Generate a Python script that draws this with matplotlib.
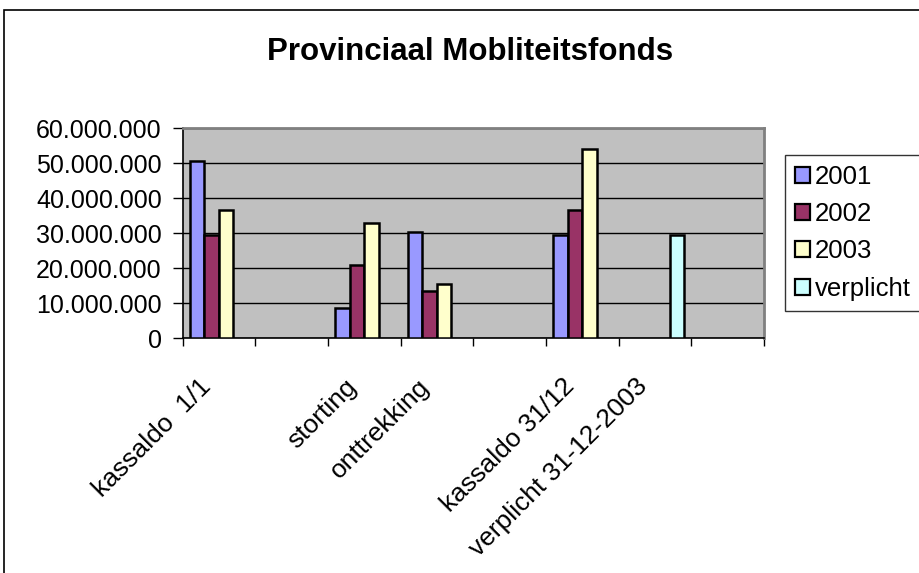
import numpy as np
import matplotlib
matplotlib.use("Agg")
import matplotlib.pyplot as plt
from matplotlib.patches import Rectangle
from matplotlib.ticker import FuncFormatter, MultipleLocator
import matplotlib.transforms as mtrans

plt.rcParams['font.family'] = ['Liberation Sans', 'DejaVu Sans']

title = "Provinciaal Mobliteitsfonds"
categories = ["kassaldo  1/1", "", "storting", "onttrekking", "",
              "kassaldo 31/12", "verplicht 31-12-2003", ""]
series_names = ["2001", "2002", "2003", "verplicht"]
nan = np.nan
v2001 = [50700000, nan, 8700000, 30200000, nan, 29500000, nan, nan]
v2002 = [29500000, nan, 20900000, 13500000, nan, 36700000, nan, nan]
v2003 = [36700000, nan, 33000000, 15600000, nan, 54100000, nan, nan]
vverp = [nan, nan, nan, nan, nan, nan, 29500000, nan]
series_values = [v2001, v2002, v2003, vverp]
colors = ["#9999FF", "#993366", "#FFFFCC", "#CCFFFF"]

W, H = 919, 573
fig = plt.figure(figsize=(W / 100, H / 100), dpi=100)
fig.patch.set_facecolor("white")

# outer chart border
fig.patches.append(Rectangle((4 / W, -0.1), 2.0, 1 - 10 / H + 0.1,
                             transform=fig.transFigure, fill=False,
                             edgecolor="black", linewidth=1.2))

ax_l, ax_r, ax_t, ax_b = 182.5, 764, 128, 338.3
ax = fig.add_axes([ax_l / W, 1 - ax_b / H, (ax_r - ax_l) / W, (ax_b - ax_t) / H])
ax.set_facecolor("#C0C0C0")

n = len(categories)
x = np.arange(n)
bw = 0.2
for k, (name, vals, c) in enumerate(zip(series_names, series_values, colors)):
    ax.bar(x + 0.2 + bw * k, vals, width=bw, color=c, edgecolor="black",
           linewidth=1.8, label=name, zorder=3)

ax.set_xlim(0, n)
ax.set_ylim(0, 60000000)
ax.yaxis.set_major_locator(MultipleLocator(10000000))
ax.yaxis.set_major_formatter(FuncFormatter(lambda v, p: f"{int(v):,}".replace(",", ".")))
ax.grid(axis="y", color="black", linewidth=1.0, zorder=1)
ax.set_axisbelow(True)
ax.tick_params(axis="y", labelsize=18, length=7, width=1, direction="out", pad=8)
ax.set_xticks(np.arange(n + 1))
ax.set_xticklabels([])
ax.tick_params(axis="x", length=6, width=1, direction="out")

for side in ["top", "right"]:
    ax.spines[side].set_color("#808080")
    ax.spines[side].set_linewidth(2)
for side in ["left", "bottom"]:
    ax.spines[side].set_color("black")
    ax.spines[side].set_linewidth(1.2)

# category labels rotated 45 degrees
for i, lab in enumerate(categories):
    if not lab:
        continue
    off = mtrans.ScaledTranslation(-20 / 100, -36 / 100, fig.dpi_scale_trans)
    ax.text(i + 0.5, 0, lab, transform=ax.get_xaxis_transform() + off,
            rotation=45, rotation_mode="anchor", ha="right", va="top",
            fontsize=19, clip_on=False)

fig.text(470 / W, 1 - 52 / H, title, ha="center", va="center",
         fontsize=22.5, fontweight="bold")

leg = fig.legend(loc="upper left", bbox_to_anchor=(785 / W, 1 - 155 / H),
                 bbox_transform=fig.transFigure, borderaxespad=0,
                 fontsize=18.5, frameon=True, fancybox=False,
                 handlelength=0.58, handleheight=0.58, handletextpad=0.2,
                 labelspacing=0.52, borderpad=0.38)
leg.get_frame().set_edgecolor("black")
leg.get_frame().set_linewidth(1.0)
for p in leg.get_patches():
    p.set_linewidth(1.6)

fig.savefig("out.png", dpi=100)
